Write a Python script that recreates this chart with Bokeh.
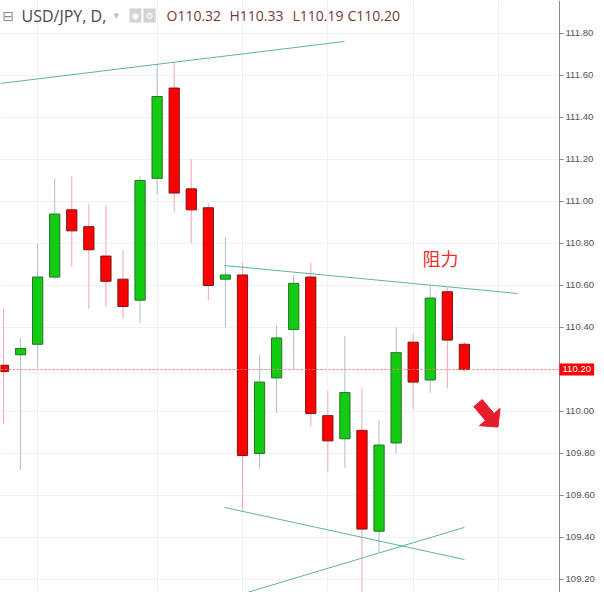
import math
from bokeh.plotting import figure
from bokeh.models import (Range1d, FixedTicker, NumeralTickFormatter, Span, Label,
                          Grid, ColumnDataSource)
from bokeh.embed import file_html
from bokeh.resources import INLINE

# ---- data ----
symbol = "USD/JPY, D,"
opens  = [110.22, 110.27, 110.32, 110.64, 110.96, 110.88, 110.74, 110.63, 110.53, 111.11,
          111.54, 111.06, 110.97, 110.63, 110.65, 109.80, 110.16, 110.39, 110.64, 109.98,
          109.87, 109.91, 109.43, 109.85, 110.33, 110.15, 110.57, 110.32]
highs  = [110.49, 110.35, 110.80, 111.11, 111.12, 110.99, 110.98, 110.77, 111.12, 111.65,
          111.66, 111.20, 110.99, 110.83, 110.71, 110.27, 110.41, 110.65, 110.71, 110.10,
          110.36, 110.11, 109.96, 110.40, 110.37, 110.60, 110.59, 110.33]
lows   = [109.94, 109.72, 110.21, 110.63, 110.69, 110.49, 110.50, 110.44, 110.42, 111.03,
          110.95, 110.80, 110.53, 110.40, 109.53, 109.73, 109.99, 110.20, 109.93, 109.71,
          109.73, 109.08, 109.33, 109.80, 110.01, 110.09, 110.11, 110.19]
closes = [110.19, 110.30, 110.64, 110.94, 110.86, 110.77, 110.62, 110.50, 111.10, 111.50,
          111.04, 110.96, 110.60, 110.65, 109.79, 110.14, 110.35, 110.61, 109.99, 109.86,
          110.09, 109.44, 109.84, 110.28, 110.14, 110.54, 110.34, 110.20]
y_ticks = [109.2, 109.4, 109.6, 109.8, 110.0, 110.2, 110.4, 110.6, 110.8, 111.0, 111.2, 111.4, 111.6, 111.8]
vgrid_idx = [2, 9, 14, 19, 24, 29]

# trend lines (candle index, price)
trend1_x = [-0.18, 19.98];  trend1_y = [111.562, 111.762]
trend2_x = [12.95, 30.11];  trend2_y = [110.695, 110.562]
trend3_x = [12.95, 27.00];  trend3_y = [109.543, 109.295]
trend4_x = [12.71, 27.00];  trend4_y = [109.100, 109.448]
note_text = "阻力"
note_x = 25.6; note_y = 110.733
arrow_x = [27.80, 28.97]; arrow_y = [110.040, 109.926]   # tail, tip

# ---- layout ----
W, H = 596, 592
X0, X1 = -0.176, -0.176 + W / 17.07
Y0, Y1 = 109.138, 111.957
AXIS_X = 32.57

n = len(opens)
xs = list(range(n))
up = [c >= o for o, c in zip(opens, closes)]
GREEN = "#12cc12"; RED = "#ff0000"
src = ColumnDataSource(dict(
    x=xs, o=opens, h=highs, l=lows, c=closes,
    top=[max(o, c) for o, c in zip(opens, closes)],
    bot=[min(o, c) for o, c in zip(opens, closes)],
    fill=[GREEN if u else RED for u in up],
    edge=["#2b6e2b" if u else "#7a1515" for u in up],
    wick=["#a9c0cf" if u else "#f4a6ab" for u in up],
))

p = figure(width=W, height=H, output_backend="svg", toolbar_location=None,
           x_range=Range1d(X0, X1), y_range=Range1d(Y0, Y1),
           y_axis_location="right", x_axis_location=None,
           min_border_left=0, min_border_top=0, min_border_bottom=0, min_border_right=0)
p.outline_line_color = None
p.background_fill_color = "white"

# grids
p.ygrid.grid_line_color = "#eef1f5"
p.ygrid.ticker = FixedTicker(ticks=y_ticks)
p.xgrid.visible = False
p.add_layout(Grid(dimension=0, ticker=FixedTicker(ticks=vgrid_idx), grid_line_color="#eef1f5"))

# axis (drawn inside the frame at a fixed location)
ax = p.yaxis[0]
ax.fixed_location = AXIS_X
ax.axis_label = None
ax.ticker = FixedTicker(ticks=y_ticks)
ax.formatter = NumeralTickFormatter(format="0.00")
ax.axis_line_color = "#8a8a8a"
ax.major_tick_line_color = "#8a8a8a"
ax.major_tick_out = 4
ax.major_tick_in = 0
ax.minor_tick_line_color = None
ax.major_label_standoff = 2
ax.major_label_text_font = "Liberation Sans"
ax.major_label_text_font_size = "9.6px"
ax.major_label_text_color = "#555555"

# current price line
p.add_layout(Span(location=closes[-1], dimension="width", line_color="#f27a7a",
                  line_dash="2 2", line_width=1))

# candles
p.segment(x0="x", y0="h", x1="x", y1="l", color="wick", line_width=1, source=src)
p.vbar(x="x", top="top", bottom="bot", width=0.6, fill_color="fill", line_color="edge",
       line_width=1, source=src)

# trend lines
for tx, ty in [(trend1_x, trend1_y), (trend2_x, trend2_y), (trend3_x, trend3_y), (trend4_x, trend4_y)]:
    p.line(tx, ty, line_color="#5db3a6", line_width=1)

# annotation text
p.add_layout(Label(x=note_x, y=note_y, text=note_text, text_align="center",
                   text_baseline="middle", text_font="Noto Sans CJK SC",
                   text_font_size="18px", text_color="#e8302f"))

# block arrow: build polygon in pixel space around tail->tip, then map back to data
sx = W / (X1 - X0)
sy = H / (Y1 - Y0)
tx0, ty0 = (arrow_x[0] - X0) * sx, (Y1 - arrow_y[0]) * sy
tx1, ty1 = (arrow_x[1] - X0) * sx, (Y1 - arrow_y[1]) * sy
L = math.hypot(tx1 - tx0, ty1 - ty0)
ux, uy = (tx1 - tx0) / L, (ty1 - ty0) / L
vx, vy = -uy, ux
head_len, head_half, shaft_half = 13, 13.5, 5.5
bx, by = tx1 - head_len * ux, ty1 - head_len * uy
pts = [(tx0 + shaft_half * vx, ty0 + shaft_half * vy),
       (bx + shaft_half * vx, by + shaft_half * vy),
       (bx + head_half * vx, by + head_half * vy),
       (tx1, ty1),
       (bx - head_half * vx, by - head_half * vy),
       (bx - shaft_half * vx, by - shaft_half * vy),
       (tx0 - shaft_half * vx, ty0 - shaft_half * vy)]
p.patch([X0 + px / sx for px, py in pts], [Y1 - py / sy for px, py in pts],
        fill_color="#e81c2a", line_color="#e81c2a", line_width=1)

# price tag on axis
p.add_layout(Label(x=AXIS_X, y=closes[-1], text=f"{closes[-1]:.2f}", text_align="left",
                   text_baseline="middle", text_font="Liberation Sans", text_font_size="9.6px",
                   text_color="white", background_fill_color="#ff0000", padding=3))

# header
def hdr(x, text, color, size="15px", font="Open Sans", **kw):
    p.add_layout(Label(x=x, y=H - 15, x_units="screen", y_units="screen", text=text,
                       text_color=color, text_font=font, text_font_size=size,
                       text_baseline="middle", **kw))

hdr(2, "⊟", "#8a8a8a", size="14px", font="DejaVu Sans")
hdr(21, symbol, "#4a4a4a", size="16px")
hdr(113, "▾", "#c0c0c0", size="11px", font="DejaVu Sans")
hdr(129, "◉", "white", size="9px", font="DejaVu Sans", background_fill_color="#d2d2d2", padding=2)
hdr(143, "⚙", "white", size="9px", font="DejaVu Sans", background_fill_color="#d2d2d2", padding=2)
xpos = [166, 229, 292, 347]
for xp, lab, val in zip(xpos, ["O", "H", "L", "C"], [opens[-1], highs[-1], lows[-1], closes[-1]]):
    hdr(xp, f"{lab}{val:.2f}", "#743a3a", size="14px")

open("out.html", "w").write(file_html(p, INLINE))
